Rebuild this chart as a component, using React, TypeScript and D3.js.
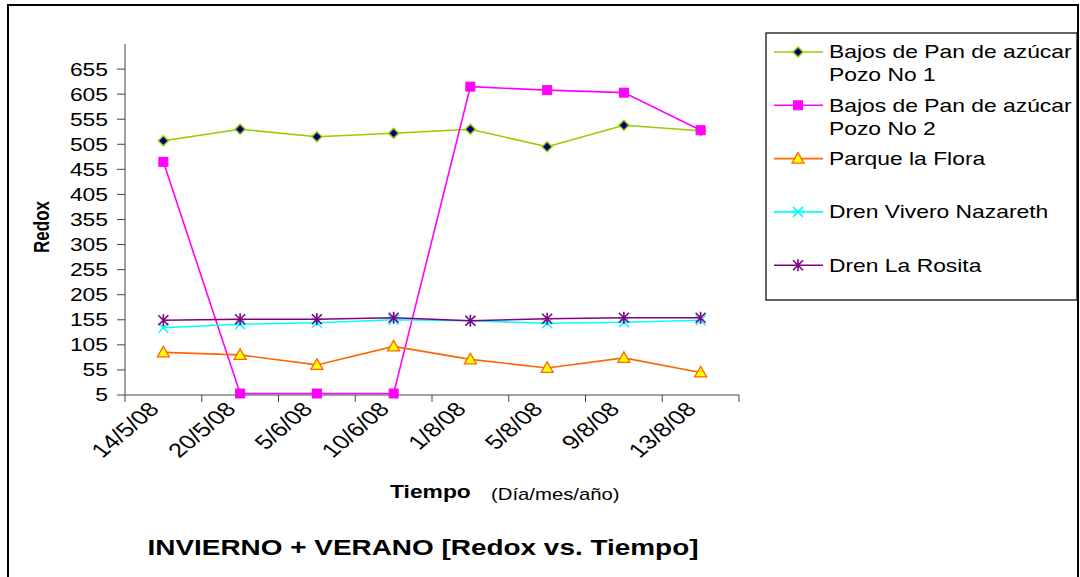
import React from 'react';
import * as d3 from 'd3';

const fechas = ['14/5/08', '20/5/08', '5/6/08', '10/6/08', '1/8/08', '5/8/08', '9/8/08', '13/8/08'];
const pozo1 = [512, 535, 520, 527, 535, 500, 543, 532];
const pozo2 = [470, 8, 8, 8, 620, 613, 608, 533];
const parqueFlora = [90, 85, 65, 102, 76, 59, 79, 50];
const drenVivero = [139, 146, 149, 155, 153, 148, 150, 154];
const drenRosita = [154, 156, 156, 159, 153, 157, 159, 159];
const yTicks = [5, 55, 105, 155, 205, 255, 305, 355, 405, 455, 505, 555, 605, 655];

const series = [
  { name: ['Bajos de Pan de azúcar', 'Pozo No 1'], values: pozo1, color: '#99CC00', marker: 'diamond' },
  { name: ['Bajos de Pan de azúcar', 'Pozo No 2'], values: pozo2, color: '#FF00FF', marker: 'square' },
  { name: ['Parque la Flora'], values: parqueFlora, color: '#FF6600', marker: 'triangle' },
  { name: ['Dren Vivero Nazareth'], values: drenVivero, color: '#00FFFF', marker: 'x' },
  { name: ['Dren La Rosita'], values: drenRosita, color: '#800080', marker: 'star' },
];

const font = 'Arial, "Liberation Sans", sans-serif';
// the original picture is stretched sideways, so text is widened too
const SX = 1.27;

function Marker({ type, color, x, y }: { type: string; color: string; x: number; y: number }) {
  if (type === 'diamond') {
    return <path d={`M${x},${y - 5}L${x + 5},${y}L${x},${y + 5}L${x - 5},${y}Z`} fill="#000080" stroke={color} strokeWidth={1.5} />;
  }
  if (type === 'square') {
    return <rect x={x - 4.5} y={y - 4.5} width={9} height={9} fill={color} stroke={color} />;
  }
  if (type === 'triangle') {
    return <path d={`M${x},${y - 6}L${x + 6},${y + 4.5}L${x - 6},${y + 4.5}Z`} fill="#FFFF00" stroke={color} strokeWidth={1.3} />;
  }
  if (type === 'x') {
    return <path d={`M${x - 5},${y - 5}L${x + 5},${y + 5}M${x - 5},${y + 5}L${x + 5},${y - 5}`} stroke={color} strokeWidth={1.6} />;
  }
  return (
    <path
      d={`M${x - 5},${y - 5}L${x + 5},${y + 5}M${x - 5},${y + 5}L${x + 5},${y - 5}M${x},${y - 6}L${x},${y + 6}`}
      stroke={color}
      strokeWidth={1.6}
    />
  );
}

export default function App() {
  const x = d3.scaleBand().domain(fechas).range([125, 739]);
  const y = d3.scaleLinear().domain([5, 705]).range([395, 44]);
  const cx = (d: string) => (x(d) as number) + x.bandwidth() / 2;
  const line = d3.line<number>().x((_, i) => cx(fechas[i])).y(v => y(v));
  const tr = (px: number, py: number) => `translate(${px},${py}) scale(${SX},1)`;

  return (
    <svg width={1080} height={577} style={{ position: 'absolute', left: 0, top: 0 }} fontFamily={font}>
      <rect x={0} y={0} width={1080} height={577} fill="#fff" />
      <rect x={8} y={5} width={1070} height={590} fill="none" stroke="#000" strokeWidth={2} />

      {/* y axis */}
      <line x1={125} x2={125} y1={44} y2={395} stroke="#444" />
      {yTicks.map(t => (
        <g key={t}>
          <line x1={117} x2={125} y1={y(t)} y2={y(t)} stroke="#444" />
          <text transform={tr(108, y(t))} dy="0.36em" textAnchor="end" fontSize={18} fill="#000">{t}</text>
        </g>
      ))}
      <text transform={`translate(49,227) scale(${SX},1) rotate(-90)`} textAnchor="middle" fontSize={17} fontWeight="bold">Redox</text>

      {/* x axis */}
      <line x1={125} x2={739} y1={395} y2={395} stroke="#444" />
      {[...fechas.map(d => x(d) as number), 739].map((p, i) => (
        <line key={i} x1={p} x2={p} y1={395} y2={402} stroke="#444" />
      ))}
      {fechas.map(d => (
        <text key={d} transform={`translate(${cx(d) - 3},${410}) scale(${SX},1) rotate(-47)`} textAnchor="end" fontSize={20}>{d}</text>
      ))}
      <text transform={tr(390, 498)} fontSize={18} fontWeight="bold">Tiempo</text>
      <text transform={tr(491, 500)} fontSize={16}>(Día/mes/año)</text>

      {/* series */}
      {series.map(s => (
        <g key={s.name.join(' ')}>
          <path d={line(s.values) || ''} fill="none" stroke={s.color} strokeWidth={1.6} />
          {s.values.map((v, i) => (
            <Marker key={i} type={s.marker} color={s.color} x={cx(fechas[i])} y={y(v)} />
          ))}
        </g>
      ))}

      {/* legend */}
      <rect x={766} y={33} width={311} height={267} fill="#fff" stroke="#000" strokeWidth={1.2} />
      {series.map((s, i) => {
        const ly = 52 + i * 53.3;
        return (
          <g key={i}>
            <line x1={774} x2={823} y1={ly} y2={ly} stroke={s.color} strokeWidth={1.6} />
            <Marker type={s.marker} color={s.color} x={798} y={ly} />
            {s.name.map((n, j) => (
              <text key={j} transform={tr(829, ly + j * 23)} dy="0.36em" fontSize={18}>{n}</text>
            ))}
          </g>
        );
      })}

      <text transform={tr(423, 555)} textAnchor="middle" fontSize={22} fontWeight="bold">INVIERNO + VERANO [Redox vs. Tiempo]</text>
    </svg>
  );
}
